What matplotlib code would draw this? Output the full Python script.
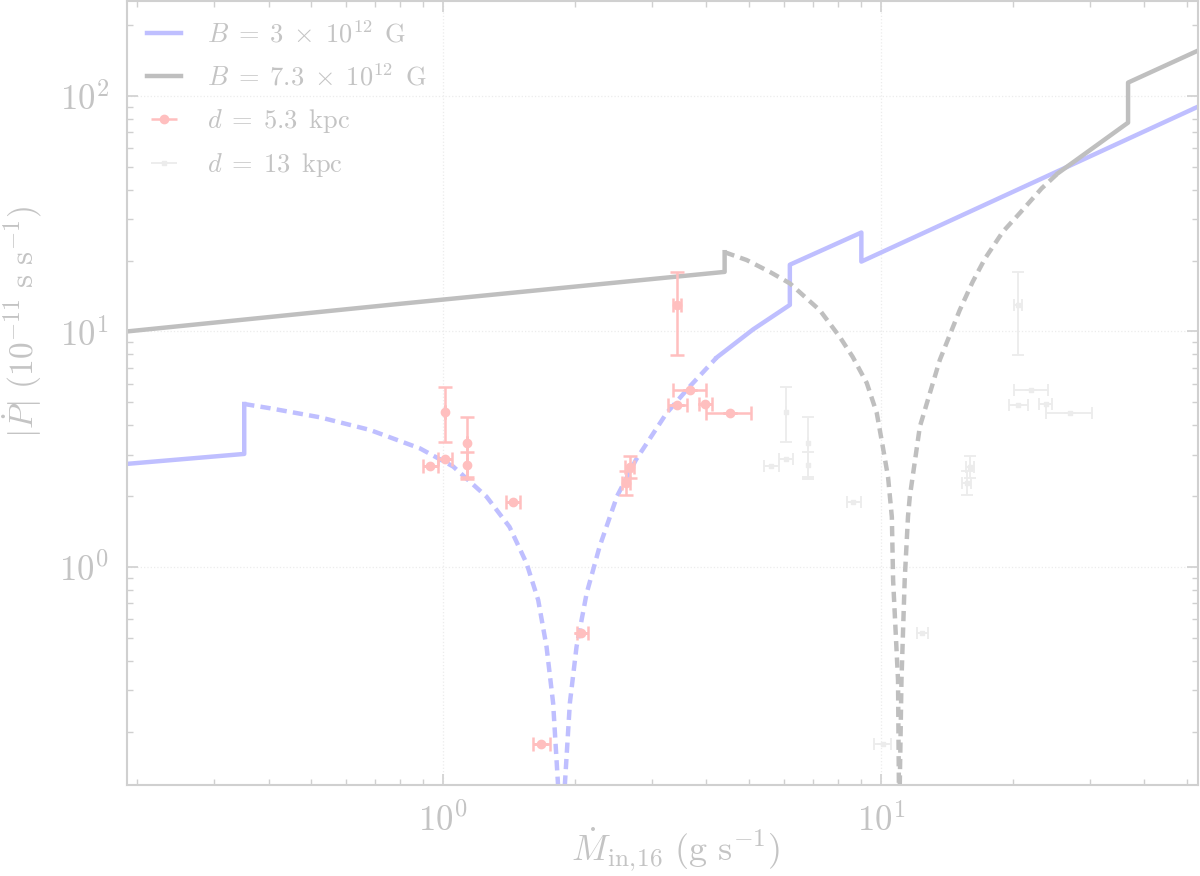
import numpy as np
import matplotlib
matplotlib.use('Agg')
import matplotlib.pyplot as plt
from matplotlib.ticker import LogLocator, NullFormatter
from matplotlib.lines import Line2D

plt.rcParams['mathtext.fontset'] = 'cm'
plt.rcParams['font.family'] = 'serif'
plt.rcParams['font.serif'] = ['cmr10']
plt.rcParams['axes.unicode_minus'] = False
plt.rcParams['axes.formatter.use_mathtext'] = True

# model curve B = 3e12 G
b3_solid1_x = [0.19, 0.352, 0.352]
b3_solid1_y = [2.74, 3.02, 4.92]
b3_dash1_x = [0.352, 0.403, 0.524, 0.681, 0.886, 1.056, 1.258, 1.42, 1.553, 1.651, 1.725, 1.786, 1.833]
b3_dash1_y = [4.92, 4.72, 4.32, 3.82, 3.19, 2.67, 1.99, 1.48, 1.037, 0.724, 0.459, 0.264, 0.118]
b3_dash2_x = [1.899, 1.95, 2.02, 2.13, 2.28, 2.50, 2.76, 3.24, 3.66, 4.22]
b3_dash2_y = [0.118, 0.264, 0.459, 0.773, 1.22, 2.0, 2.85, 4.49, 5.83, 7.75]
b3_solid2_x = [4.22, 5.11, 6.2, 6.2, 9.03, 9.03, 53.0]
b3_solid2_y = [7.75, 10.2, 12.96, 19.2, 26.3, 19.8, 90.0]

# model curve B = 7.3e12 G
b7_solid1_x = [0.19, 0.798, 4.40, 4.40]
b7_solid1_y = [10.0, 13.1, 17.9, 21.7]
b7_dash1_x = [4.40, 4.94, 5.58, 6.2, 7.26, 8.06, 8.63, 9.29, 9.79, 10.11, 10.39, 10.60, 10.67, 10.95, 11.0]
b7_dash1_y = [21.7, 20.1, 17.9, 16.0, 12.3, 9.48, 7.79, 6.04, 4.51, 3.23, 2.41, 1.63, 0.88, 0.331, 0.118]
b7_dash2_x = [11.05, 11.15, 11.34, 11.54, 11.65, 12.28, 13.64, 15.14, 16.2, 17.3, 19.0, 20.77, 23.3, 25.4]
b7_dash2_y = [0.118, 0.331, 0.88, 1.64, 1.99, 3.94, 7.57, 12.3, 16.2, 20.4, 26.5, 31.8, 40.5, 47.0]
b7_solid2_x = [25.4, 36.7, 36.7, 53.0]
b7_solid2_y = [47.0, 77.0, 113.9, 155.7]

# observations, d = 5.3 kpc
mdot_53 = [0.937, 1.011, 1.011, 1.137, 1.137, 1.443, 1.68, 2.07, 2.62, 2.67, 3.43, 3.66, 3.43, 3.97, 4.52]
pdot = [2.68, 2.87, 4.57, 3.37, 2.71, 1.88, 0.178, 0.526, 2.28, 2.67, 12.95, 5.64, 4.87, 4.92, 4.52]
mdot_53_lo = [0.035, 0.035, 0, 0, 0, 0.05, 0.073, 0.05, 0.06, 0.06, 0.07, 0.31, 0.17, 0.13, 0.54]
mdot_53_hi = [0.039, 0.036, 0, 0, 0, 0.056, 0.076, 0.07, 0.06, 0.06, 0.07, 0.34, 0.18, 0.14, 0.54]
pdot_lo = [0, 0, 1.19, 0.95, 0.35, 0, 0, 0, 0.25, 0.28, 5.0, 0, 0, 0, 0]
pdot_hi = [0, 0, 1.23, 0.95, 0.38, 0, 0, 0, 0.27, 0.30, 4.85, 0, 0, 0, 0]

# observations, d = 13 kpc
mdot_13 = [5.62, 6.07, 6.07, 6.82, 6.82, 8.66, 10.1, 12.4, 15.7, 16.0, 20.6, 22.0, 20.6, 23.8, 27.1]
mdot_13_lo = [0.21, 0.21, 0, 0, 0, 0.30, 0.44, 0.30, 0.36, 0.36, 0.42, 1.86, 1.02, 0.78, 3.24]
mdot_13_hi = [0.23, 0.22, 0, 0, 0, 0.34, 0.46, 0.42, 0.36, 0.36, 0.42, 2.04, 1.08, 0.84, 3.24]

blue = '#bfbfff'
grey = '#bfbfbf'
red = '#ffbfbf'
faint = '#ececec'
txt = '#c4c4c4'
edge = '#d0d0d0'

fig = plt.figure(figsize=(12, 8.76), dpi=100)
ax = fig.add_axes([0.1058, 0.1039, 0.8925, 0.895])

dash = (0, (2.3, 1.4))
ax.plot(b3_solid1_x, b3_solid1_y, color=blue, lw=3.2)
ax.plot(b3_dash1_x, b3_dash1_y, color=blue, lw=3.2, ls=dash)
ax.plot(b3_dash2_x, b3_dash2_y, color=blue, lw=3.2, ls=dash)
ax.plot(b3_solid2_x, b3_solid2_y, color=blue, lw=3.2)

ax.plot(b7_solid1_x, b7_solid1_y, color=grey, lw=3.2)
ax.plot(b7_dash1_x, b7_dash1_y, color=grey, lw=3.2, ls=dash)
ax.plot(b7_dash2_x, b7_dash2_y, color=grey, lw=3.2, ls=dash)
ax.plot(b7_solid2_x, b7_solid2_y, color=grey, lw=3.2)

ax.errorbar(mdot_13, pdot, xerr=[mdot_13_lo, mdot_13_hi], yerr=[pdot_lo, pdot_hi],
            fmt='s', ms=3.5, color=faint, elinewidth=1.3, capsize=4, capthick=1.3, zorder=3)
ax.errorbar(mdot_53, pdot, xerr=[mdot_53_lo, mdot_53_hi], yerr=[pdot_lo, pdot_hi],
            fmt='o', ms=6, color=red, elinewidth=1.8, capsize=5, capthick=1.8, zorder=4)

ax.set_xscale('log')
ax.set_yscale('log')
ax.set_xlim(0.19, 53)
ax.set_ylim(0.1187, 253)

for a in (ax.xaxis, ax.yaxis):
    a.set_major_locator(LogLocator(base=10, numticks=20))
    a.set_minor_locator(LogLocator(base=10, subs=np.arange(2, 10), numticks=100))
    a.set_minor_formatter(NullFormatter())

ax.tick_params(which='both', direction='in', top=True, right=True, color=edge,
               labelcolor=txt, labelsize=25, pad=13)
ax.tick_params(which='major', length=8, width=1.2)
ax.tick_params(which='minor', length=4, width=1.0)
for s in ax.spines.values():
    s.set_color(edge)
    s.set_linewidth(1.5)

ax.grid(True, which='major', ls=':', color='#ececec', lw=0.9)

ax.set_xlabel(r'$\dot{M}_{\mathrm{in},\!16}\ (\mathrm{g\ s^{-1}})$', fontsize=26, color=txt)
ax.set_ylabel(r'$|\dot{P}|\ (10^{-11}\ \mathrm{s\ s^{-1}})$', fontsize=24, color=txt)
ax.xaxis.set_label_coords(0.512, -0.052)
ax.yaxis.set_label_coords(-0.077, 0.59)

h_b3 = Line2D([], [], color=blue, lw=3.2)
h_b7 = Line2D([], [], color=grey, lw=3.2)
h_53 = ax.errorbar([], [], xerr=[], fmt='o', ms=6, color=red, elinewidth=1.8, capsize=5, capthick=1.8)
h_13 = ax.errorbar([], [], xerr=[], fmt='s', ms=3.5, color=faint, elinewidth=1.3, capsize=4, capthick=1.3)
leg = ax.legend([h_b3, h_b7, h_53, h_13],
                [r'$B\;=\;3\;\times\;10^{12}\ \,\mathrm{G}$', r'$B\;=\;7.3\;\times\;10^{12}\ \,\mathrm{G}$',
                 r'$d\;=\;5.3\ \,\mathrm{kpc}$', r'$d\;=\;13\ \,\mathrm{kpc}$'],
                loc='upper left', frameon=False, fontsize=19, handlelength=1.3,
                handletextpad=1.0, labelspacing=0.62, borderaxespad=0.35)
for t in leg.get_texts():
    t.set_color(txt)

fig.savefig('out.png', dpi=100)
